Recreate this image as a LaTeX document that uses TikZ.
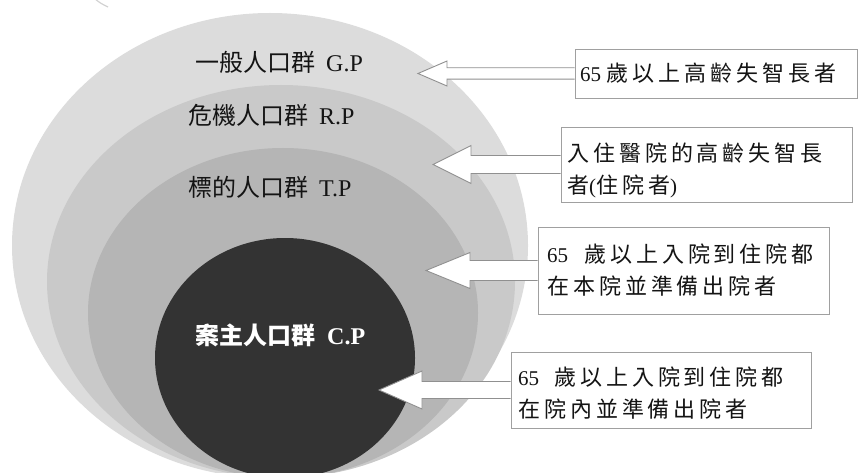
\documentclass[tikz,border=0pt]{standalone}
\usepackage{fontspec}
\setmainfont{Liberation Serif}
\newfontfamily\cjkbox[LetterSpace=18]{Noto Sans CJK TC}
\newfontfamily\cjklab{Noto Sans CJK TC}
\usetikzlibrary{shapes.geometric,calc}
\definecolor{gpc}{HTML}{DCDCDC}
\definecolor{rpc}{HTML}{C9C9C9}
\definecolor{tpc}{HTML}{B5B5B5}
\definecolor{cpc}{HTML}{333333}
\definecolor{boxc}{HTML}{A0A0A0}
\definecolor{arrc}{HTML}{909090}
\definecolor{txt}{HTML}{141414}
\newcommand\boxfont{\fontsize{21}{32}\selectfont}
\newcommand\labfont{\fontsize{24}{28}\selectfont}
\newcommand\cb[1]{{\cjkbox\fontsize{22}{32}\selectfont #1}}
\newcommand\cl[1]{{\cjklab #1}}
\newcommand\blockarr[5]{%
  \filldraw[barrow] ($(#1.west)+(0,-#3)$) -- ($(#2)+(#5,-#3)$) -- ($(#2)+(#5,-#4)$) -- (#2)
    -- ($(#2)+(#5,#4)$) -- ($(#2)+(#5,#3)$) -- ($(#1.west)+(0,#3)$);}
\begin{document}
\begin{tikzpicture}[x=1pt,y=-1pt,
  layer/.style={ellipse, draw=none, inner sep=0pt},
  lab/.style={anchor=west, inner sep=0pt, text=txt, font=\labfont},
  boxnode/.style={draw=boxc, line width=0.9pt, fill=white, inner sep=0pt},
  btext/.style={anchor=west, inner sep=0pt, align=left, text=txt, font=\boxfont},
  barrow/.style={draw=arrc, fill=white, line width=0.9pt, line join=miter}]
\useasboundingbox (0,0) rectangle (858,473);
\clip (0,0) rectangle (858,473);
\draw[gray!35, line width=1.2pt] (94,-2) .. controls (100,3) .. (108,7);
% nested population ellipses
\node[layer, fill=gpc, minimum width=516pt, minimum height=465pt] (gp) at (270,245.5) {};
\node[layer, fill=rpc, minimum width=468pt, minimum height=393pt] (rp) at (281,281.5) {};
\node[layer, fill=tpc, minimum width=390pt, minimum height=330pt] (tp) at (283,313) {};
\node[layer, fill=cpc, minimum width=260pt, minimum height=240pt] (cp) at (285,358) {};
% labels
\node[lab] (lgp) at (195,62) {\cl{一般人口群}\hspace{11pt}G.P};
\node[lab] (lrp) at (188,115) {\cl{危機人口群}\hspace{11pt}R.P};
\node[lab] (ltp) at (188,187) {\cl{標的人口群}\hspace{11pt}T.P};
\node[lab, text=white] (lcp) at (195,335) {\bfseries\cl{\bfseries 案主人口群}\hspace{12pt}C.P};
% boxes
\node[boxnode, minimum width=282pt, minimum height=49pt] (b1) at (716,73.5) {};
\node[boxnode, minimum width=291pt, minimum height=75pt] (b2) at (706.5,164.5) {};
\node[boxnode, minimum width=291pt, minimum height=87pt] (b3) at (683.5,270.5) {};
\node[boxnode, minimum width=300pt, minimum height=76pt] (b4) at (661,390) {};
\node[btext] (t1) at (580,73.5) {65 \cb{歲以上高齡失智長者}};
\node[btext] (t2) at (567,170) {\cb{入住醫院的高齡失智長}\\\cb{者}(\cb{住院者})};
\node[btext] (t3) at (547,270) {65\hspace{16pt}\cb{歲以上入院到住院都}\\\cb{在本院並準備出院者}};
\node[btext] (t4) at (518,393.5) {65\hspace{15pt}\cb{歲以上入院到住院都}\\\cb{在院內並準備出院者}};
% arrow tips
\coordinate (a1) at (418,73.5);
\coordinate (a2) at (433,164.5);
\coordinate (a3) at (426,270.5);
\coordinate (a4) at (379,390);
\blockarr{b1}{a1}{5.7}{12.5}{29}
\blockarr{b2}{a2}{9}{19}{38}
\blockarr{b3}{a3}{10}{18}{44}
\blockarr{b4}{a4}{8.5}{19}{43}
\end{tikzpicture}
\end{document}
